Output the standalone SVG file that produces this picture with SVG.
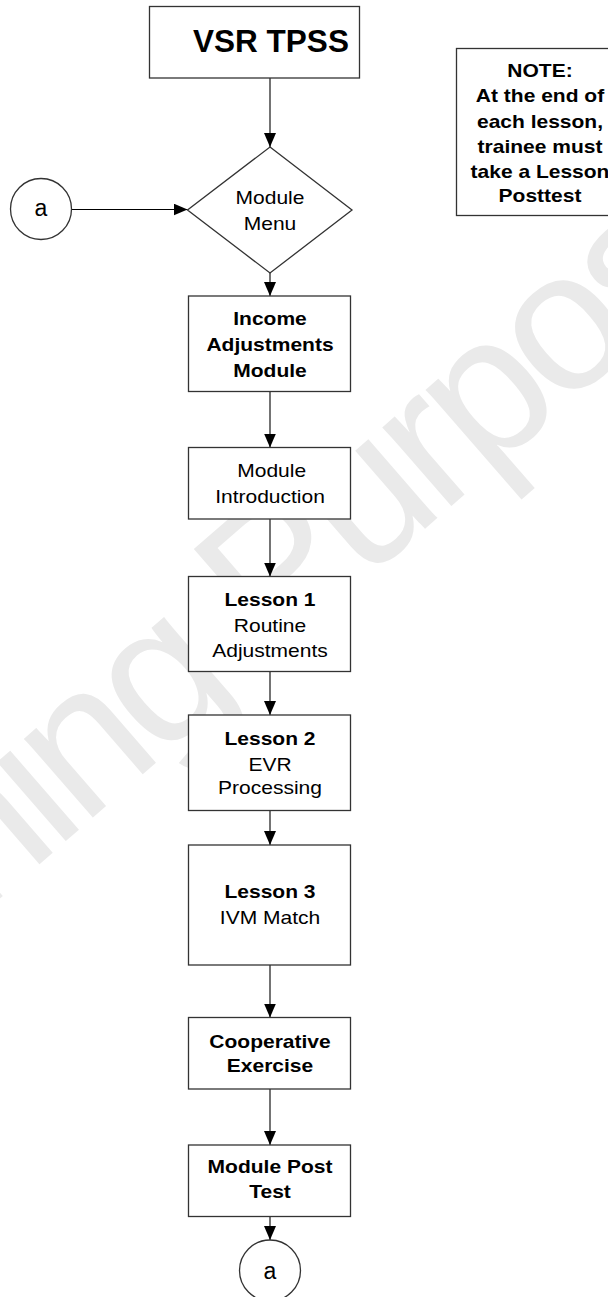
<svg xmlns="http://www.w3.org/2000/svg" width="608" height="1297" viewBox="0 0 608 1297">
<style>
.box{fill:#fff;stroke:#333;stroke-width:1.3}
.t{font-family:"Liberation Sans",Arial,sans-serif;font-size:18.6px;fill:#000;text-anchor:middle}
.b{font-weight:bold}
.wm{font-family:"Liberation Sans",Arial,sans-serif;font-size:198px;letter-spacing:-8.5px;fill:#eaeaea}
.ln{stroke:#000;stroke-width:1.1;fill:none;marker-end:url(#ah)}
</style>
<defs>
<marker id="ah" markerUnits="userSpaceOnUse" markerWidth="14" markerHeight="12" refX="14" refY="6" orient="auto">
<path d="M0,0 L14,6 L0,12 z" fill="#000"/>
</marker>
</defs>
<rect width="608" height="1297" fill="#fff"/>
<text class="wm" transform="translate(-247 1113) rotate(-41)">Training Purposes</text>

<g id="connectors">
<line class="ln" x1="270" y1="78" x2="270" y2="147"/>
<line class="ln" x1="71.5" y1="209.5" x2="187.5" y2="209.5"/>
<line class="ln" x1="270" y1="273" x2="270" y2="296"/>
<line class="ln" x1="270" y1="391.5" x2="270" y2="447.5"/>
<line class="ln" x1="270" y1="519" x2="270" y2="576.5"/>
<line class="ln" x1="270" y1="671.5" x2="270" y2="715"/>
<line class="ln" x1="270" y1="810.5" x2="270" y2="845"/>
<line class="ln" x1="270" y1="965" x2="270" y2="1017.5"/>
<line class="ln" x1="270" y1="1089" x2="270" y2="1145"/>
<line class="ln" x1="270" y1="1216.5" x2="270" y2="1240"/>
</g>

<g id="vsr">
<rect class="box" x="149.5" y="6.5" width="210" height="71.5"/>
<text class="t b" x="271" y="52" style="font-size:31.5px">VSR TPSS</text>
</g>

<g id="note">
<rect class="box" x="456.5" y="48.5" width="170" height="167"/>
<g transform="translate(540 0) scale(1.13 1)">
<text class="t b" x="0" y="77">NOTE:</text>
<text class="t b" x="0" y="102.5">At the end of</text>
<text class="t b" x="0" y="128">each lesson,</text>
<text class="t b" x="0" y="153">trainee must</text>
<text class="t b" x="0" y="178">take a Lesson</text>
<text class="t b" x="0" y="202">Posttest</text>
</g>
</g>

<g id="connector-a-top">
<circle class="box" cx="41" cy="209" r="30.5"/>
<text class="t" x="41" y="215.5" style="font-size:23px">a</text>
</g>

<g id="module-menu">
<polygon class="box" points="270,147 352,210 270,273 187.5,210"/>
<g transform="translate(270 0) scale(1.13 1)">
<text class="t" x="0" y="204">Module</text>
<text class="t" x="0" y="230">Menu</text>
</g>
</g>

<g id="income">
<rect class="box" x="188.5" y="296" width="162" height="95.5"/>
<g transform="translate(270 0) scale(1.13 1)">
<text class="t b" x="0" y="325.5">Income</text>
<text class="t b" x="0" y="351.3">Adjustments</text>
<text class="t b" x="0" y="377">Module</text>
</g>
</g>

<g id="intro">
<rect class="box" x="188.5" y="447.5" width="162" height="71.5"/>
<g transform="translate(270 0) scale(1.13 1)">
<text class="t" x="1.5" y="476.7">Module</text>
<text class="t" x="0" y="502.7">Introduction</text>
</g>
</g>

<g id="lesson1">
<rect class="box" x="188.5" y="576.5" width="162" height="95"/>
<g transform="translate(270 0) scale(1.13 1)">
<text class="t b" x="0" y="605.7">Lesson 1</text>
<text class="t" x="0" y="631.7">Routine</text>
<text class="t" x="0" y="656.7">Adjustments</text>
</g>
</g>

<g id="lesson2">
<rect class="box" x="188.5" y="715" width="162" height="95.5"/>
<g transform="translate(270 0) scale(1.13 1)">
<text class="t b" x="0" y="745">Lesson 2</text>
<text class="t" x="0" y="770.7">EVR</text>
<text class="t" x="0" y="794">Processing</text>
</g>
</g>

<g id="lesson3">
<rect class="box" x="188.5" y="845" width="162" height="120"/>
<g transform="translate(270 0) scale(1.13 1)">
<text class="t b" x="0" y="898.3">Lesson 3</text>
<text class="t" x="0" y="924.3">IVM Match</text>
</g>
</g>

<g id="cooperative">
<rect class="box" x="188.5" y="1017.5" width="162" height="71.5"/>
<g transform="translate(270 0) scale(1.13 1)">
<text class="t b" x="0" y="1048">Cooperative</text>
<text class="t b" x="0" y="1072">Exercise</text>
</g>
</g>

<g id="posttest">
<rect class="box" x="188.5" y="1145" width="162" height="71.5"/>
<g transform="translate(270 0) scale(1.13 1)">
<text class="t b" x="0" y="1173.3">Module Post</text>
<text class="t b" x="0" y="1198.3">Test</text>
</g>
</g>

<g id="connector-a-bottom">
<circle class="box" cx="270" cy="1270.5" r="30.5"/>
<text class="t" x="270" y="1279" style="font-size:23px">a</text>
</g>
</svg>
